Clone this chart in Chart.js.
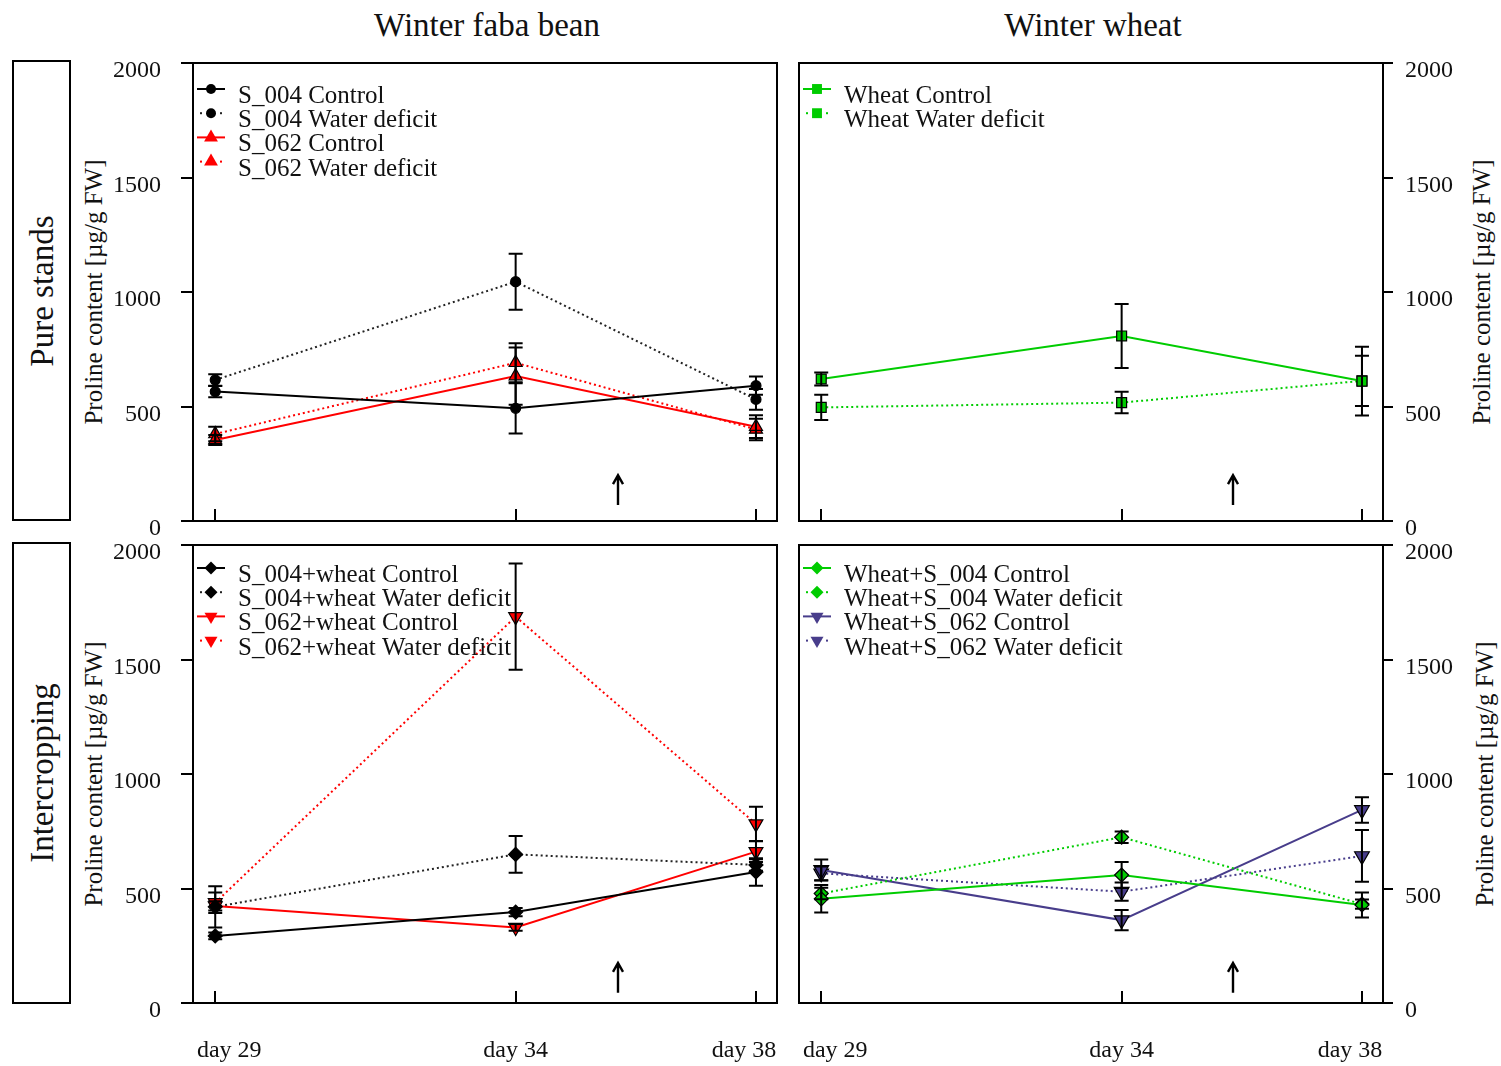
<!DOCTYPE html>
<html>
<head>
<meta charset="utf-8">
<script src="https://cdn.jsdelivr.net/npm/chart.js@4.4.1/dist/chart.umd.min.js"></script>
<style>
  html, body { margin: 0; padding: 0; background: #fff; overflow: hidden; width: 1501px; height: 1066px; }
  canvas { position: absolute; }
  .serif { font-family: 'Liberation Serif', 'Times New Roman', serif; color: #111; white-space: nowrap; }
  .col-title { position: absolute; font-size: 33px; line-height: 1; transform: translateX(-50%); top: 9px; }
  .row-box { position: absolute; left: 12px; width: 55px; border: 2px solid #000; }
  .vtext { position: absolute; line-height: 1; transform: translate(-50%, -50%) rotate(-90deg); }
</style>
</head>
<body>
<div class="serif col-title" style="left:487px">Winter faba bean</div>
<div class="serif col-title" style="left:1093px">Winter wheat</div>

<div class="row-box" style="top:60px;height:457px"></div>
<div class="row-box" style="top:542px;height:458px"></div>
<div class="serif vtext" style="left:42px;top:291px;font-size:33px">Pure stands</div>
<div class="serif vtext" style="left:42px;top:773px;font-size:33px">Intercropping</div>

<div class="serif vtext" style="left:93px;top:292px;font-size:25px">Proline content [µg/g FW]</div>
<div class="serif vtext" style="left:93px;top:774px;font-size:25px">Proline content [µg/g FW]</div>
<div class="serif vtext" style="left:1481px;top:292px;font-size:25px">Proline content [µg/g FW]</div>
<div class="serif vtext" style="left:1484px;top:774px;font-size:25px">Proline content [µg/g FW]</div>

<canvas id="fabaPure" width="715" height="490" style="left:75px;top:48px"></canvas>
<canvas id="wheatPure" width="714" height="490" style="left:787px;top:48px"></canvas>
<canvas id="fabaInter" width="715" height="536" style="left:75px;top:530px"></canvas>
<canvas id="wheatInter" width="714" height="536" style="left:787px;top:530px"></canvas>

<script>
// Sampling days and axis labels
const days = [29, 34, 38];
const dayLabels = ['day 29', 'day 34', 'day 38'];
const yTicks = [0, 500, 1000, 1500, 2000];

// Winter faba bean, pure stands (mean and error, µg/g FW)
const s004Control = [565, 492, 591];
const s004ControlErr = [25, 110, 40];
const s004Deficit = [616, 1045, 531];
const s004DeficitErr = [25, 122, 45];
const s062Control = [354, 633, 412];
const s062ControlErr = [22, 125, 50];
const s062Deficit = [380, 691, 400];
const s062DeficitErr = [32, 85, 47];

// Winter wheat, pure stands
const wheatControl = [620, 808, 611];
const wheatControlErr = [28, 140, 150];
const wheatDeficit = [496, 517, 612];
const wheatDeficitErr = [55, 47, 110];

// Winter faba bean, intercropped with wheat
const s004wControl = [293, 397, 572];
const s004wControlErr = [15, 18, 60];
const s004wDeficit = [420, 649, 603];
const s004wDeficitErr = [90, 80, 25];
const s062wControl = [424, 330, 661];
const s062wControlErr = [20, 15, 45];
const s062wDeficit = [438, 1687, 782];
const s062wDeficitErr = [45, 232, 75];

// Winter wheat, intercropped with faba bean
const wS004Control = [455, 559, 428];
const wS004ControlErr = [60, 57, 55];
const wS004Deficit = [478, 724, 432];
const wS004DeficitErr = [25, 25, 20];
const wS062Control = [581, 362, 843];
const wS062ControlErr = [46, 44, 56];
const wS062Deficit = [566, 486, 642];
const wS062DeficitErr = [30, 40, 113];

// Rewatering marker (day, arrow foot, arrow tip)
const arrowDayFaba = 35.7;
const arrowDayWheat = 35.85;
const arrowPure = [70, 200];
const arrowInter = [45, 175];

const SERIF = "'Liberation Serif', 'Times New Roman', serif";
Chart.defaults.font.family = SERIF;
Chart.defaults.color = '#111';
Chart.defaults.animation = false;

const RED = '#ff0000', GREEN = '#00cc00', PURPLE = '#483d8b', BLACK = '#000000';
const DOT = [2, 3];
const CLEAR = 'rgba(0,0,0,0)';
// horizontal nudge of the outer day labels so neighbouring panels do not collide
const DAY_LABEL_SHIFT = [14, 0, -12];

function series(label, values, err, look) {
  return Object.assign({
    label,
    data: days.map((d, i) => ({ x: d, y: values[i] })),
    err,
    borderWidth: 2,
    fill: false,
    tension: 0,
    pointBorderColor: '#000',
    pointBorderWidth: 1.2,
  }, look);
}

function marker(ctx, style, x, y, r, rot, fill) {
  ctx.beginPath();
  if (style === 'circle') {
    ctx.arc(x, y, r, 0, Math.PI * 2);
  } else if (style === 'triangle') {
    let a = rot * Math.PI / 180;
    for (let k = 0; k < 3; k++) {
      const px = x + Math.sin(a) * r, py = y - Math.cos(a) * r;
      k ? ctx.lineTo(px, py) : ctx.moveTo(px, py);
      a += 2 * Math.PI / 3;
    }
    ctx.closePath();
  } else if (style === 'rect') {
    const s = r * Math.SQRT1_2;
    ctx.rect(x - s, y - s, 2 * s, 2 * s);
  } else if (style === 'rectRot') {
    ctx.moveTo(x - r, y); ctx.lineTo(x, y - r); ctx.lineTo(x + r, y); ctx.lineTo(x, y + r);
    ctx.closePath();
  }
  ctx.fillStyle = fill;
  ctx.fill();
}

const errorBars = {
  id: 'errorBars',
  afterDatasetsDraw(chart) {
    const { ctx, scales: { x, y } } = chart;
    ctx.save();
    ctx.strokeStyle = '#000';
    ctx.lineWidth = 2;
    chart.data.datasets.forEach(ds => {
      ds.data.forEach((p, i) => {
        const e = ds.err[i];
        const px = x.getPixelForValue(p.x);
        const top = y.getPixelForValue(p.y + e);
        const bot = y.getPixelForValue(p.y - e);
        ctx.beginPath();
        ctx.moveTo(px, top); ctx.lineTo(px, bot);
        ctx.moveTo(px - 7, top); ctx.lineTo(px + 7, top);
        ctx.moveTo(px - 7, bot); ctx.lineTo(px + 7, bot);
        ctx.stroke();
      });
    });
    ctx.restore();
  }
};

// Frame, inward day ticks with their labels, outward value ticks and the rewatering arrow
const panelFrame = {
  id: 'panelFrame',
  afterDraw(chart, args, o) {
    const { ctx, chartArea: a, scales: { x, y } } = chart;
    ctx.save();
    ctx.strokeStyle = '#000';
    ctx.lineWidth = 2;
    ctx.strokeRect(a.left, a.top, a.right - a.left, a.bottom - a.top);
    ctx.beginPath();
    days.forEach(d => {
      const px = Math.round(x.getPixelForValue(d));
      ctx.moveTo(px, a.bottom);
      ctx.lineTo(px, a.bottom - 12);
    });
    yTicks.forEach(v => {
      const py = Math.round(y.getPixelForValue(v));
      if (o.side === 'right') { ctx.moveTo(a.right, py); ctx.lineTo(a.right + 10, py); }
      else { ctx.moveTo(a.left, py); ctx.lineTo(a.left - 12, py); }
    });
    ctx.stroke();

    if (o.showDays) {
      ctx.font = '24px ' + SERIF;
      ctx.fillStyle = '#111';
      ctx.textAlign = 'center';
      ctx.textBaseline = 'middle';
      days.forEach((d, i) => {
        ctx.fillText(dayLabels[i], x.getPixelForValue(d) + DAY_LABEL_SHIFT[i], a.bottom + 48);
      });
    }

    const ax = Math.round(x.getPixelForValue(o.arrowDay));
    const y1 = y.getPixelForValue(o.arrow[0]);
    const y2 = y.getPixelForValue(o.arrow[1]);
    ctx.lineWidth = 2.4;
    ctx.beginPath();
    ctx.moveTo(ax, y1); ctx.lineTo(ax, y2 + 1);
    ctx.moveTo(ax - 5, y2 + 9); ctx.lineTo(ax, y2); ctx.lineTo(ax + 5, y2 + 9);
    ctx.stroke();
    ctx.restore();
  }
};

const insetLegend = {
  id: 'insetLegend',
  afterDraw(chart, args, o) {
    const { ctx, chartArea: a } = chart;
    ctx.save();
    ctx.font = '25px ' + SERIF;
    ctx.textBaseline = 'alphabetic';
    chart.data.datasets.forEach((ds, i) => {
      const base = a.top + o.top + i * 24.2;
      const cy = base - 14;
      const cx = a.left + 18;
      ctx.strokeStyle = ds.borderColor;
      ctx.fillStyle = ds.borderColor;
      ctx.lineWidth = 2;
      if (!ds.borderDash) {
        ctx.beginPath();
        ctx.moveTo(cx - 14, cy); ctx.lineTo(cx + 14, cy);
        ctx.stroke();
      } else {
        ctx.fillRect(cx - 11, cy - 1, 2, 2);
        ctx.fillRect(cx + 9, cy - 1, 2, 2);
      }
      marker(ctx, ds.pointStyle, cx, cy, ds.legendRadius, ds.pointRotation || 0, ds.legendFill);
      ctx.fillStyle = '#111';
      ctx.fillText(ds.label, a.left + 45, base);
    });
    ctx.restore();
  }
};

function makeChart(id, datasets, opt) {
  const right = opt.side === 'right';
  return new Chart(document.getElementById(id), {
    type: 'line',
    data: { datasets },
    plugins: [errorBars, panelFrame, insetLegend],
    options: {
      responsive: false,
      maintainAspectRatio: false,
      layout: { padding: right ? { top: 15, left: 12, right: 0, bottom: 0 } : { top: 15, left: 0, right: 13, bottom: 0 } },
      plugins: {
        legend: { display: false },
        tooltip: { enabled: false },
        panelFrame: { arrowDay: opt.arrowDay, arrow: opt.arrow, side: opt.side, showDays: opt.showDays },
        insetLegend: { top: opt.legendTop },
      },
      scales: {
        x: {
          type: 'linear',
          min: 28.63,
          max: 38.35,
          afterBuildTicks: s => { s.ticks = days.map(v => ({ value: v })); },
          afterFit: s => { s.height = opt.xHeight; },
          ticks: { display: false },
          grid: { display: false, drawTicks: false },
          border: { display: false },
        },
        y: {
          position: opt.side,
          min: 0,
          max: 2000,
          afterBuildTicks: s => { s.ticks = yTicks.map(v => ({ value: v })); },
          afterFit: s => { s.width = 118; },
          ticks: {
            padding: 0,
            labelOffset: 8,
            font: { size: 24 },
            callback: v => String(v),
          },
          grid: { drawOnChartArea: false, drawTicks: true, tickLength: right ? 22 : 32, tickColor: CLEAR },
          border: { display: false },
        },
      },
    },
  });
}

const circleBlack = { pointStyle: 'circle', pointRadius: 5, pointBackgroundColor: BLACK, legendFill: BLACK, legendRadius: 5 };
const triUpRed = { pointStyle: 'triangle', pointRadius: 7.5, pointBackgroundColor: RED, legendFill: RED, legendRadius: 8 };
const squareGreen = { pointStyle: 'rect', pointRadius: 7, pointBackgroundColor: GREEN, legendFill: GREEN, legendRadius: 7 };
const diamondBlack = { pointStyle: 'rectRot', pointRadius: 7, pointBackgroundColor: BLACK, legendFill: BLACK, legendRadius: 6.5 };
const triDownRed = { pointStyle: 'triangle', pointRotation: 180, pointRadius: 8, pointBackgroundColor: RED, legendFill: RED, legendRadius: 7.5 };
const diamondGreen = { pointStyle: 'rectRot', pointRadius: 7, pointBackgroundColor: GREEN, legendFill: GREEN, legendRadius: 6.5 };
const triDownPurple = { pointStyle: 'triangle', pointRotation: 180, pointRadius: 8.5, pointBackgroundColor: PURPLE, legendFill: PURPLE, legendRadius: 7.5 };

makeChart('fabaPure', [
  series('S_004 Control', s004Control, s004ControlErr, Object.assign({ borderColor: BLACK }, circleBlack)),
  series('S_004 Water deficit', s004Deficit, s004DeficitErr, Object.assign({ borderColor: '#222', borderDash: DOT }, circleBlack)),
  series('S_062 Control', s062Control, s062ControlErr, Object.assign({ borderColor: RED }, triUpRed)),
  series('S_062 Water deficit', s062Deficit, s062DeficitErr, Object.assign({ borderColor: RED, borderDash: DOT }, triUpRed)),
], { side: 'left', arrowDay: arrowDayFaba, arrow: arrowPure, legendTop: 40, xHeight: 17, showDays: false });

makeChart('wheatPure', [
  series('Wheat Control', wheatControl, wheatControlErr, Object.assign({ borderColor: GREEN }, squareGreen)),
  series('Wheat Water deficit', wheatDeficit, wheatDeficitErr, Object.assign({ borderColor: GREEN, borderDash: DOT }, squareGreen)),
], { side: 'right', arrowDay: arrowDayWheat, arrow: arrowPure, legendTop: 40, xHeight: 17, showDays: false });

makeChart('fabaInter', [
  series('S_004+wheat Control', s004wControl, s004wControlErr, Object.assign({ borderColor: BLACK }, diamondBlack)),
  series('S_004+wheat Water deficit', s004wDeficit, s004wDeficitErr, Object.assign({ borderColor: '#222', borderDash: DOT }, diamondBlack)),
  series('S_062+wheat Control', s062wControl, s062wControlErr, Object.assign({ borderColor: RED }, triDownRed)),
  series('S_062+wheat Water deficit', s062wDeficit, s062wDeficitErr, Object.assign({ borderColor: RED, borderDash: DOT }, triDownRed)),
], { side: 'left', arrowDay: arrowDayFaba, arrow: arrowInter, legendTop: 37, xHeight: 63, showDays: true });

makeChart('wheatInter', [
  series('Wheat+S_004 Control', wS004Control, wS004ControlErr, Object.assign({ borderColor: GREEN }, diamondGreen)),
  series('Wheat+S_004 Water deficit', wS004Deficit, wS004DeficitErr, Object.assign({ borderColor: GREEN, borderDash: DOT }, diamondGreen)),
  series('Wheat+S_062 Control', wS062Control, wS062ControlErr, Object.assign({ borderColor: PURPLE }, triDownPurple)),
  series('Wheat+S_062 Water deficit', wS062Deficit, wS062DeficitErr, Object.assign({ borderColor: PURPLE, borderDash: DOT }, triDownPurple)),
], { side: 'right', arrowDay: arrowDayWheat, arrow: arrowInter, legendTop: 37, xHeight: 63, showDays: true });
</script>
</body>
</html>
